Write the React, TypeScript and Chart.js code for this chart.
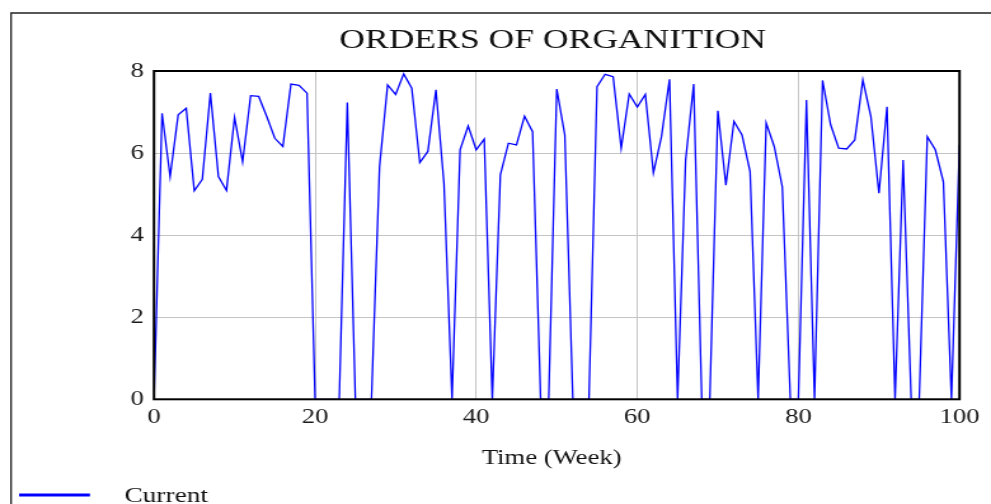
import React, { useEffect, useRef } from "react";
import { Chart, registerables } from "chart.js";

Chart.register(...registerables);

const TITLE = "ORDERS OF ORGANITION";
const X_TITLE = "Time (Week)";
const SERIES_NAME = "Current";

const weeks = [
  0, 1, 2, 3, 4, 5, 6, 7, 8, 9, 10, 11, 12, 13, 14, 15, 16, 17, 18, 19, 20,
  21, 22, 23, 24, 25, 26, 27, 28, 29, 30, 31, 32, 33, 34, 35, 36, 37, 38, 39, 40,
  41, 42, 43, 44, 45, 46, 47, 48, 49, 50, 51, 52, 53, 54, 55, 56, 57, 58, 59, 60,
  61, 62, 63, 64, 65, 66, 67, 68, 69, 70, 71, 72, 73, 74, 75, 76, 77, 78, 79, 80,
  81, 82, 83, 84, 85, 86, 87, 88, 89, 90, 91, 92, 93, 94, 95, 96, 97, 98, 99, 100,
];

const orders = [
  0, 6.97, 5.43, 6.93, 7.09, 5.08, 5.36, 7.46, 5.43, 5.09, 6.87,
  5.79, 7.4, 7.38, 6.89, 6.36, 6.16, 7.68, 7.65, 7.46, 0,
  0, 0, 0, 7.23, 0, 0, 0, 5.67, 7.66, 7.43,
  7.93, 7.58, 5.77, 6.04, 7.54, 5.26, 0, 6.08, 6.66, 6.08,
  6.34, 0, 5.47, 6.24, 6.2, 6.9, 6.52, 0, 0, 7.56,
  6.44, 0, 0, 0, 7.62, 7.92, 7.86, 6.12, 7.44, 7.12,
  7.43, 5.52, 6.4, 7.8, 0, 5.83, 7.68, 0, 0, 7.03,
  5.22, 6.77, 6.44, 5.55, 0, 6.73, 6.16, 5.18, 0, 0,
  7.29, 0, 7.77, 6.69, 6.12, 6.1, 6.32, 7.78, 6.89, 5.02,
  7.13, 0, 5.83, 0, 0, 6.4, 6.08, 5.3, 0, 6.2,
];

const xTicks = [0, 20, 40, 60, 80, 100];
const yTicks = [0, 2, 4, 6, 8];

const W = 780;
const H = 504;
const SX = 991 / W;
const FONT = '"Liberation Serif", "Times New Roman", serif';

const decorPlugin = {
  id: "decor",
  afterDraw(chart: any) {
    const ctx = chart.ctx;
    const a = chart.chartArea;
    ctx.save();
    // outer frame
    ctx.strokeStyle = "#222";
    ctx.lineWidth = 1.3;
    ctx.beginPath();
    ctx.moveTo(8.7, H);
    ctx.lineTo(8.7, 13);
    ctx.lineTo(W, 13);
    ctx.stroke();
    // plot frame
    ctx.strokeStyle = "#000";
    ctx.lineWidth = 2;
    ctx.strokeRect(a.left, a.top, a.right - a.left, a.bottom - a.top);
    // title
    ctx.fillStyle = "#111";
    ctx.textAlign = "center";
    ctx.textBaseline = "alphabetic";
    ctx.font = `28px ${FONT}`;
    ctx.fillText(TITLE, 435, 47.7);
    // x axis title
    ctx.font = `21px ${FONT}`;
    ctx.fillText(X_TITLE, 434.2, 464);
    // legend
    ctx.strokeStyle = "#0000ff";
    ctx.lineWidth = 3;
    ctx.beginPath();
    ctx.moveTo(15, 495);
    ctx.lineTo(70.8, 495);
    ctx.stroke();
    ctx.textAlign = "left";
    ctx.font = `21.5px ${FONT}`;
    ctx.fillText(SERIES_NAME, 98, 501.7);
    ctx.restore();
  },
};

export default function App() {
  const ref = useRef<HTMLCanvasElement | null>(null);
  useEffect(() => {
    if (!ref.current) return;
    const chart = new Chart(ref.current, {
      type: "line",
      data: {
        datasets: [
          {
            label: SERIES_NAME,
            data: weeks.map((w, i) => ({ x: w, y: orders[i] })),
            borderColor: "#0000ff",
            borderWidth: 1.3,
            pointRadius: 0,
            tension: 0,
            fill: false,
          },
        ],
      },
      options: {
        responsive: false,
        animation: false,
        devicePixelRatio: 1,
        layout: { padding: { top: 71, right: 24.8, left: 0, bottom: 0 } },
        plugins: {
          legend: { display: false },
          title: { display: false },
          tooltip: { enabled: false },
        },
        scales: {
          x: {
            type: "linear",
            min: 0,
            max: 100,
            afterBuildTicks: (s: any) => {
              s.ticks = xTicks.map((v) => ({ value: v }));
            },
            afterFit: (s: any) => {
              s.height = H - 399.3;
            },
            ticks: {
              font: { family: FONT, size: 21 },
              color: "#1a1a1a",
              padding: 6,
              maxRotation: 0,
              autoSkip: false,
            },
            grid: { color: "#c4c4c4", lineWidth: 1, drawTicks: false },
            border: { display: false },
          },
          y: {
            type: "linear",
            min: 0,
            max: 8,
            afterBuildTicks: (s: any) => {
              s.ticks = yTicks.map((v) => ({ value: v }));
            },
            afterFit: (s: any) => {
              s.width = 121.2;
            },
            ticks: {
              font: { family: FONT, size: 21 },
              color: "#1a1a1a",
              padding: 8,
            },
            grid: { color: "#c4c4c4", lineWidth: 1, drawTicks: false },
            border: { display: false },
          },
        },
      },
      plugins: [decorPlugin],
    });
    return () => chart.destroy();
  }, []);
  return (
    <div
      style={{
        position: "absolute",
        left: 0,
        top: 0,
        width: 991,
        height: 504,
        overflow: "hidden",
        background: "#fff",
      }}
    >
      <canvas
        ref={ref}
        width={W}
        height={H}
        style={{
          display: "block",
          width: W,
          height: H,
          transform: `scaleX(${SX})`,
          transformOrigin: "0 0",
        }}
      />
    </div>
  );
}
